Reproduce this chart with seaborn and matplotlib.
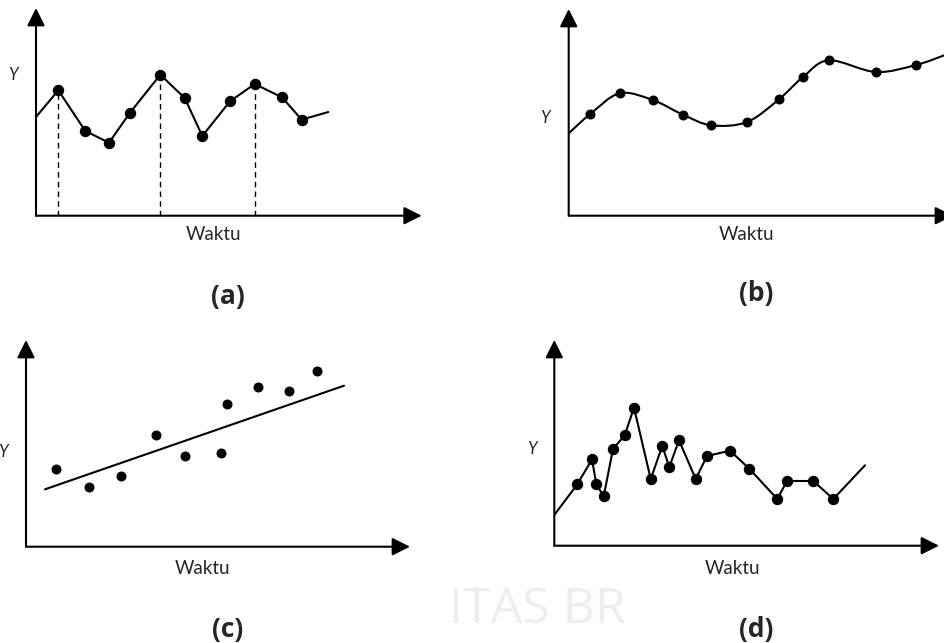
import matplotlib
matplotlib.use("Agg")
import matplotlib.pyplot as plt
from matplotlib.path import Path
from matplotlib.patches import PathPatch
import numpy as np
import seaborn as sns

sns.set_style("white")
plt.rcParams["font.family"] = ["Lato", "DejaVu Sans"]

# ── Data (panel units, origin at the axis corner) ─────────────────────────────
# (a) zig-zag series with dashed drops at the peaks
a_time = [0, 22.3, 49.3, 73, 94, 124.3, 148.7, 166.3, 194, 218.7, 246, 265.7, 292.3]
a_y = [98.7, 125.4, 84.7, 73, 103, 141, 117.7, 79.7, 114.4, 131.7, 118.4, 96, 103.7]
a_peaks = [1, 5, 9]

# (b) smooth series
b_time = [0, 21.6, 51, 84, 114.3, 142.6, 178.3, 210.3, 234.3, 260.3, 307, 347.3, 376.3]
b_y = [82.4, 101.7, 122.4, 115.7, 101, 90.4, 93.7, 116.4, 138.7, 155.4, 143.7, 150.7, 160.7]

# (c) scatter with a trend line
c_time = [29.7, 63.3, 95.3, 130.3, 159.3, 195, 201, 231.7, 263.3, 291.3]
c_y = [77.4, 59.7, 70.7, 111.4, 90.7, 94, 143, 159.7, 156, 175.7]
c_trend_time = [19, 318]
c_trend_y = [57.4, 161]

# (d) irregular series
d_time = [0, 23, 37.7, 42, 49.4, 58.7, 70.4, 79.7, 96.4, 108, 115, 124.7, 141.4,
          152.7, 175.7, 195, 223, 232.7, 259, 279, 310.7]
d_y = [30.7, 61.4, 86.4, 61.4, 49.4, 96.7, 110.4, 138, 66.7, 99.7, 78.7, 105.4, 66.7,
       89.7, 95, 77, 46.7, 64.7, 64.7, 46.7, 80.4]

# ── Layout (pixels) ───────────────────────────────────────────────────────────
W, H = 945, 643
# origin x, origin y (from top), x-arrow tip, y-arrow tip (from top)
PANELS = {
    "a": (36, 215.7, 421.7, 8),
    "b": (568.7, 215.7, 953, 9),
    "c": (26, 546.7, 410, 340),
    "d": (554.3, 545.7, 939, 340),
}
Y_LABEL = {"a": (13, 75), "b": (545, 118), "c": (3, 452), "d": (532, 449)}
X_LABEL = {"a": (213, 235), "b": (746, 235), "c": (202, 568), "d": (732, 568)}
TAG = {"a": (228, 297), "b": (756, 294), "c": (228, 629), "d": (756, 629)}

LW = 1.5
MS = 7.2


def make_axes(fig, key):
    ox, oy, tx, ty = PANELS[key]
    w, h = tx - ox, oy - ty
    ax = fig.add_axes([ox / W, (H - oy) / H, w / W, h / H])
    ax.set_xlim(0, w)
    ax.set_ylim(0, h)
    ax.set_axis_off()
    style = "-|>,head_length=1.0,head_width=0.5"
    for tip in [(1, 0), (0, 1)]:
        ax.annotate("", xy=tip, xytext=(0, 0), xycoords="axes fraction",
                    textcoords="axes fraction", annotation_clip=False,
                    arrowprops=dict(arrowstyle=style, color="black", lw=LW,
                                    mutation_scale=10.8, shrinkA=0, shrinkB=0))
    return ax


def smooth_path(xs, ys):
    # Catmull-Rom through the points, drawn as cubic Bezier segments
    pts = np.column_stack([xs, ys])
    verts = [pts[0]]
    codes = [Path.MOVETO]
    for i in range(len(pts) - 1):
        p0 = pts[i - 1] if i > 0 else pts[i]
        p1, p2 = pts[i], pts[i + 1]
        p3 = pts[i + 2] if i + 2 < len(pts) else pts[i + 1]
        verts += [p1 + (p2 - p0) / 6, p2 - (p3 - p1) / 6, p2]
        codes += [Path.CURVE4] * 3
    return Path(verts, codes)


fig = plt.figure(figsize=(W / 100, H / 100), dpi=100)

# faint watermark, behind everything
fig.text(537 / W, 1 - 610 / H, "ITAS BR", fontsize=36, color="#eeeeee",
         family="Open Sans", ha="center", va="center", zorder=-5)

# (a)
ax = make_axes(fig, "a")
sns.lineplot(x=a_time, y=a_y, ax=ax, color="black", lw=LW, sort=False)
ax.plot(a_time[1:-1], a_y[1:-1], "o", color="black", ms=MS)
ax.vlines([a_time[i] for i in a_peaks], 0, [a_y[i] for i in a_peaks],
          colors="black", linestyles=(0, (4, 3)), lw=1)

# (b)
ax = make_axes(fig, "b")
ax.add_patch(PathPatch(smooth_path(b_time, b_y), fill=False, color="black", lw=LW))
sns.scatterplot(x=b_time[1:-1], y=b_y[1:-1], ax=ax, color="black", s=MS ** 2,
                linewidth=0)

# (c)
ax = make_axes(fig, "c")
sns.lineplot(x=c_trend_time, y=c_trend_y, ax=ax, color="black", lw=LW)
sns.scatterplot(x=c_time, y=c_y, ax=ax, color="black", s=MS ** 2, linewidth=0)

# (d)
ax = make_axes(fig, "d")
sns.lineplot(x=d_time, y=d_y, ax=ax, color="black", lw=LW, sort=False)
ax.plot(d_time[1:-1], d_y[1:-1], "o", color="black", ms=MS)

# ── Labels ────────────────────────────────────────────────────────────────────
for key in PANELS:
    x, y = Y_LABEL[key]
    fig.text(x / W, 1 - y / H, "Y", style="italic", fontsize=12,
             ha="center", va="center")
    x, y = X_LABEL[key]
    fig.text(x / W, 1 - y / H, "Waktu", fontsize=13.5, ha="center", va="center")
    x, y = TAG[key]
    fig.text(x / W, 1 - y / H, f"({key})", fontsize=19, fontweight="bold",
             family="Open Sans", ha="center", va="center")

fig.savefig("out.png", dpi=100)
